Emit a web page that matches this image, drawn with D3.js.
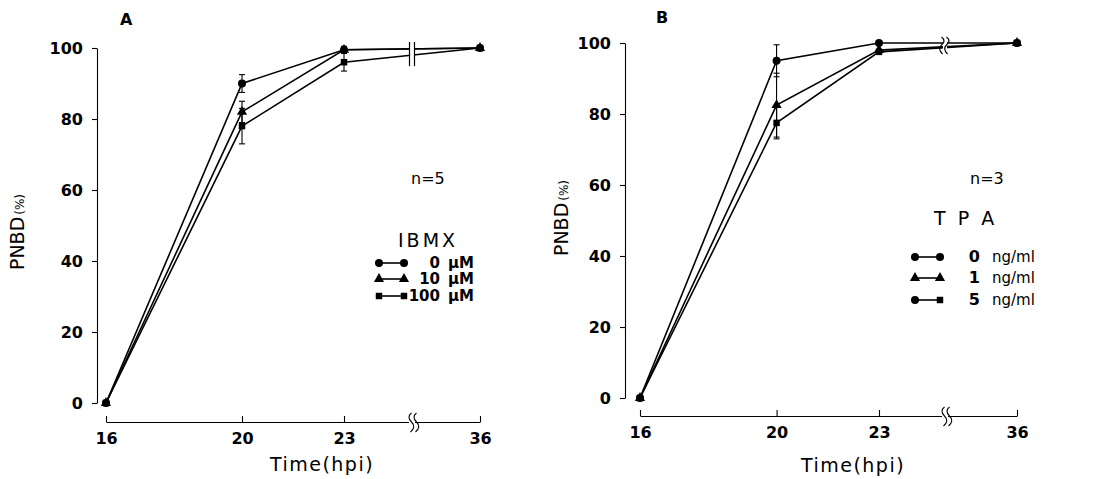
<!DOCTYPE html>
<html>
<head>
<meta charset="utf-8">
<script src="https://cdn.jsdelivr.net/npm/d3@7"></script>
<style>
body{margin:0;background:#fff}
svg{display:block}
</style>
</head>
<body>
<svg id="chart" width="1095" height="479"></svg>
<script>
// hours post infection
const timePoints = [16, 20, 23, 36]
const timeTickLabels = ["16", "20", "23", "36"]
const yTickValues = [0, 20, 40, 60, 80, 100]

// panel A, IBMX
const ibmxDoses = ["0", "10", "100"]
const ibmx0 = [0, 90, 99.5, 100]
const ibmx10 = [0, 82, 99.5, 100]
const ibmx100 = [0, 78, 96, 100]
const ibmx0Err = [0, 2.5, 1, 0]
const ibmx10Err = [0, 3, 0, 0]
const ibmx100Err = [0, 5, 2.5, 0]

// panel B, TPA
const tpaDoses = ["0", "1", "5"]
const tpa0 = [0, 95, 100, 100]
const tpa1 = [0, 82.5, 98, 100]
const tpa5 = [0, 77.5, 97.5, 100]
const tpa0Err = [0, 4.5, 0, 0]
const tpa1Err = [0, 9, 0, 0]
const tpa5Err = [0, 4.5, 0, 0]

let svg = d3.select("#chart")
let font = "DejaVu Sans, Liberation Sans, sans-serif"

let drawMarker = function(g, shape, x, y){
    if(shape === "circle"){
        g.append("circle").attr("cx", x).attr("cy", y).attr("r", 4).attr("fill", "black")
    } else {
        let sym = shape === "triangle" ? d3.symbolTriangle : d3.symbolSquare
        g.append("path")
            .attr("d", d3.symbol().type(sym).size(shape === "triangle" ? 45 : 42)())
            .attr("transform", "translate(" + x + "," + y + ")")
            .attr("fill", "black")
    }
}

let drawPanel = function(p){

    let g = svg.append("g")

    let x = d3.scaleLinear().domain([16, 23, 36]).range(p.xRange)
    let y = d3.scaleLinear().domain([0, 100]).range(p.yRange)

    // y axis
    let yAxis = g.append("g")
        .attr("transform", "translate(" + p.yAxisX + ",0)")
        .call(d3.axisLeft(y).tickValues(yTickValues).tickSizeInner(5).tickSizeOuter(0).tickPadding(9))
    yAxis.selectAll("text")
        .attr("font-family", font).attr("font-size", 16).attr("font-weight", "bold")
    yAxis.selectAll("path, line").attr("stroke-width", 1.1)

    // x axis, ticks pointing up
    let xAxis = g.append("g")
        .attr("transform", "translate(0," + p.xAxisY + ")")
        .call(d3.axisBottom(x).tickValues(timePoints).tickFormat((d, i) => timeTickLabels[i])
            .tickSizeInner(-6).tickSizeOuter(0).tickPadding(11))
    xAxis.selectAll("text")
        .attr("font-family", font).attr("font-size", 16).attr("font-weight", "bold")
    xAxis.selectAll("path, line").attr("stroke-width", 1.1)

    // axis break
    let bx = p.breakX
    g.append("rect").attr("x", bx - 3).attr("y", p.xAxisY - 3).attr("width", 6).attr("height", 6).attr("fill", "white")
    ;[-2.5, 2.5].forEach(function(o){
        g.append("path")
            .attr("d", "M" + (bx + o + 2) + "," + (p.xAxisY - 9) + " q-5,4 0,9 q5,5 -1,10")
            .attr("fill", "none").attr("stroke", "black").attr("stroke-width", 1.1)
    })

    let line = d3.line().x((d, i) => x(timePoints[i])).y(d => y(d))

    p.series.forEach(function(s){
        g.append("path")
            .datum(s.values)
            .attr("d", line)
            .attr("fill", "none")
            .attr("stroke", "black")
            .attr("stroke-width", 1.6)
    })

    // break marks on the lines
    g.append("rect").attr("x", bx - 2).attr("y", y(100) - 6).attr("width", 4).attr("height", y(96) - y(100) + 8).attr("fill", "white")
    ;[-2.5, 2.5].forEach(function(o){
        if(p.breakStyle === "bars"){
            g.append("line")
                .attr("x1", bx + o).attr("x2", bx + o)
                .attr("y1", y(100) - 6).attr("y2", y(96) + 4)
                .attr("stroke", "black").attr("stroke-width", 1.2)
        } else {
            g.append("path")
                .attr("d", "M" + (bx + o - 1) + "," + (y(100) - 6) + " q5,4 0,8 q-4,4 1,9")
                .attr("fill", "none").attr("stroke", "black").attr("stroke-width", 1.2)
        }
    })

    p.series.forEach(function(s){
        s.values.forEach(function(v, i){
            let e = s.errors[i]
            if(e > 0){
                let cx = x(timePoints[i])
                g.append("line").attr("x1", cx).attr("x2", cx).attr("y1", y(v - e)).attr("y2", y(v + e))
                    .attr("stroke", "black").attr("stroke-width", 1.1)
                ;[v - e, v + e].forEach(function(t){
                    g.append("line").attr("x1", cx - 3).attr("x2", cx + 3).attr("y1", y(t)).attr("y2", y(t))
                        .attr("stroke", "black").attr("stroke-width", 1.1)
                })
            }
            drawMarker(g, s.shape, x(timePoints[i]), y(v))
        })
    })

    // panel letter
    g.append("text").text(p.letter)
        .attr("x", p.letterPos[0]).attr("y", p.letterPos[1])
        .attr("font-family", font).attr("font-size", 16).attr("font-weight", "bold")

    // y label
    let yl = g.append("text")
        .attr("transform", "translate(" + p.yLabelPos[0] + "," + p.yLabelPos[1] + ") rotate(-90)")
        .attr("text-anchor", "middle")
        .attr("font-family", font)
    yl.append("tspan").text("PNBD").attr("font-size", 19)
    yl.append("tspan").text("(%)").attr("font-size", 12).attr("dx", 2)

    // x label
    g.append("text").text("Time(hpi)")
        .attr("x", p.xLabelPos[0]).attr("y", p.xLabelPos[1])
        .attr("text-anchor", "middle")
        .attr("font-family", font).attr("font-size", 19)
        .attr("letter-spacing", 1.5)

    g.append("text").text(p.nText)
        .attr("x", p.nPos[0]).attr("y", p.nPos[1])
        .attr("font-family", font).attr("font-size", 16)

    g.append("text").text(p.title)
        .attr("x", p.titlePos[0]).attr("y", p.titlePos[1])
        .attr("font-family", font).attr("font-size", 19)
        .attr("letter-spacing", p.titleSpacing)

    // legend
    p.series.forEach(function(s, i){
        let ly = p.legendRows[i]
        g.append("line")
            .attr("x1", p.legendX[0]).attr("x2", p.legendX[1])
            .attr("y1", ly).attr("y2", ly)
            .attr("stroke", "black").attr("stroke-width", 1.6)
        drawMarker(g, s.legendShapes[0], p.legendX[0], ly)
        drawMarker(g, s.legendShapes[1], p.legendX[1], ly)
        g.append("text").text(s.dose)
            .attr("x", p.doseX).attr("y", ly + 5)
            .attr("text-anchor", "end")
            .attr("font-family", font).attr("font-size", p.doseSize).attr("font-weight", "bold")
        g.append("text").text(p.unit)
            .attr("x", p.unitX).attr("y", ly + 5)
            .attr("font-family", font).attr("font-size", p.unitSize).attr("font-weight", p.unitWeight)
    })
}

drawPanel({
    letter: "A", letterPos: [120, 25],
    xRange: [106, 344, 480], yRange: [403, 48],
    yAxisX: 97, xAxisY: 422, breakX: 412,
    breakStyle: "bars",
    yLabelPos: [24, 232], xLabelPos: [322, 471],
    nText: "n=5", nPos: [411, 184],
    title: "IBMX", titlePos: [398, 247], titleSpacing: 3,
    legendRows: [263, 279, 296], legendX: [379, 404],
    doseX: 440, doseSize: 15, unitX: 448, unit: "μM", unitSize: 15, unitWeight: "bold",
    series: [
        {dose: ibmxDoses[0], values: ibmx0, errors: ibmx0Err, shape: "circle", legendShapes: ["circle", "circle"]},
        {dose: ibmxDoses[1], values: ibmx10, errors: ibmx10Err, shape: "triangle", legendShapes: ["triangle", "triangle"]},
        {dose: ibmxDoses[2], values: ibmx100, errors: ibmx100Err, shape: "square", legendShapes: ["square", "square"]}
    ]
})

drawPanel({
    letter: "B", letterPos: [656, 23],
    xRange: [640, 879, 1017], yRange: [398, 43],
    yAxisX: 625, xAxisY: 416, breakX: 945,
    breakStyle: "curl",
    yLabelPos: [568, 218], xLabelPos: [853, 472],
    nText: "n=3", nPos: [970, 184],
    title: "T P A", titlePos: [934, 225], titleSpacing: 3,
    legendRows: [257, 278, 300], legendX: [915, 940],
    doseX: 980, doseSize: 16, unitX: 992, unit: "ng/ml", unitSize: 15, unitWeight: "normal",
    series: [
        {dose: tpaDoses[0], values: tpa0, errors: tpa0Err, shape: "circle", legendShapes: ["circle", "circle"]},
        {dose: tpaDoses[1], values: tpa1, errors: tpa1Err, shape: "triangle", legendShapes: ["triangle", "triangle"]},
        {dose: tpaDoses[2], values: tpa5, errors: tpa5Err, shape: "square", legendShapes: ["circle", "square"]}
    ]
})
</script>
</body>
</html>
